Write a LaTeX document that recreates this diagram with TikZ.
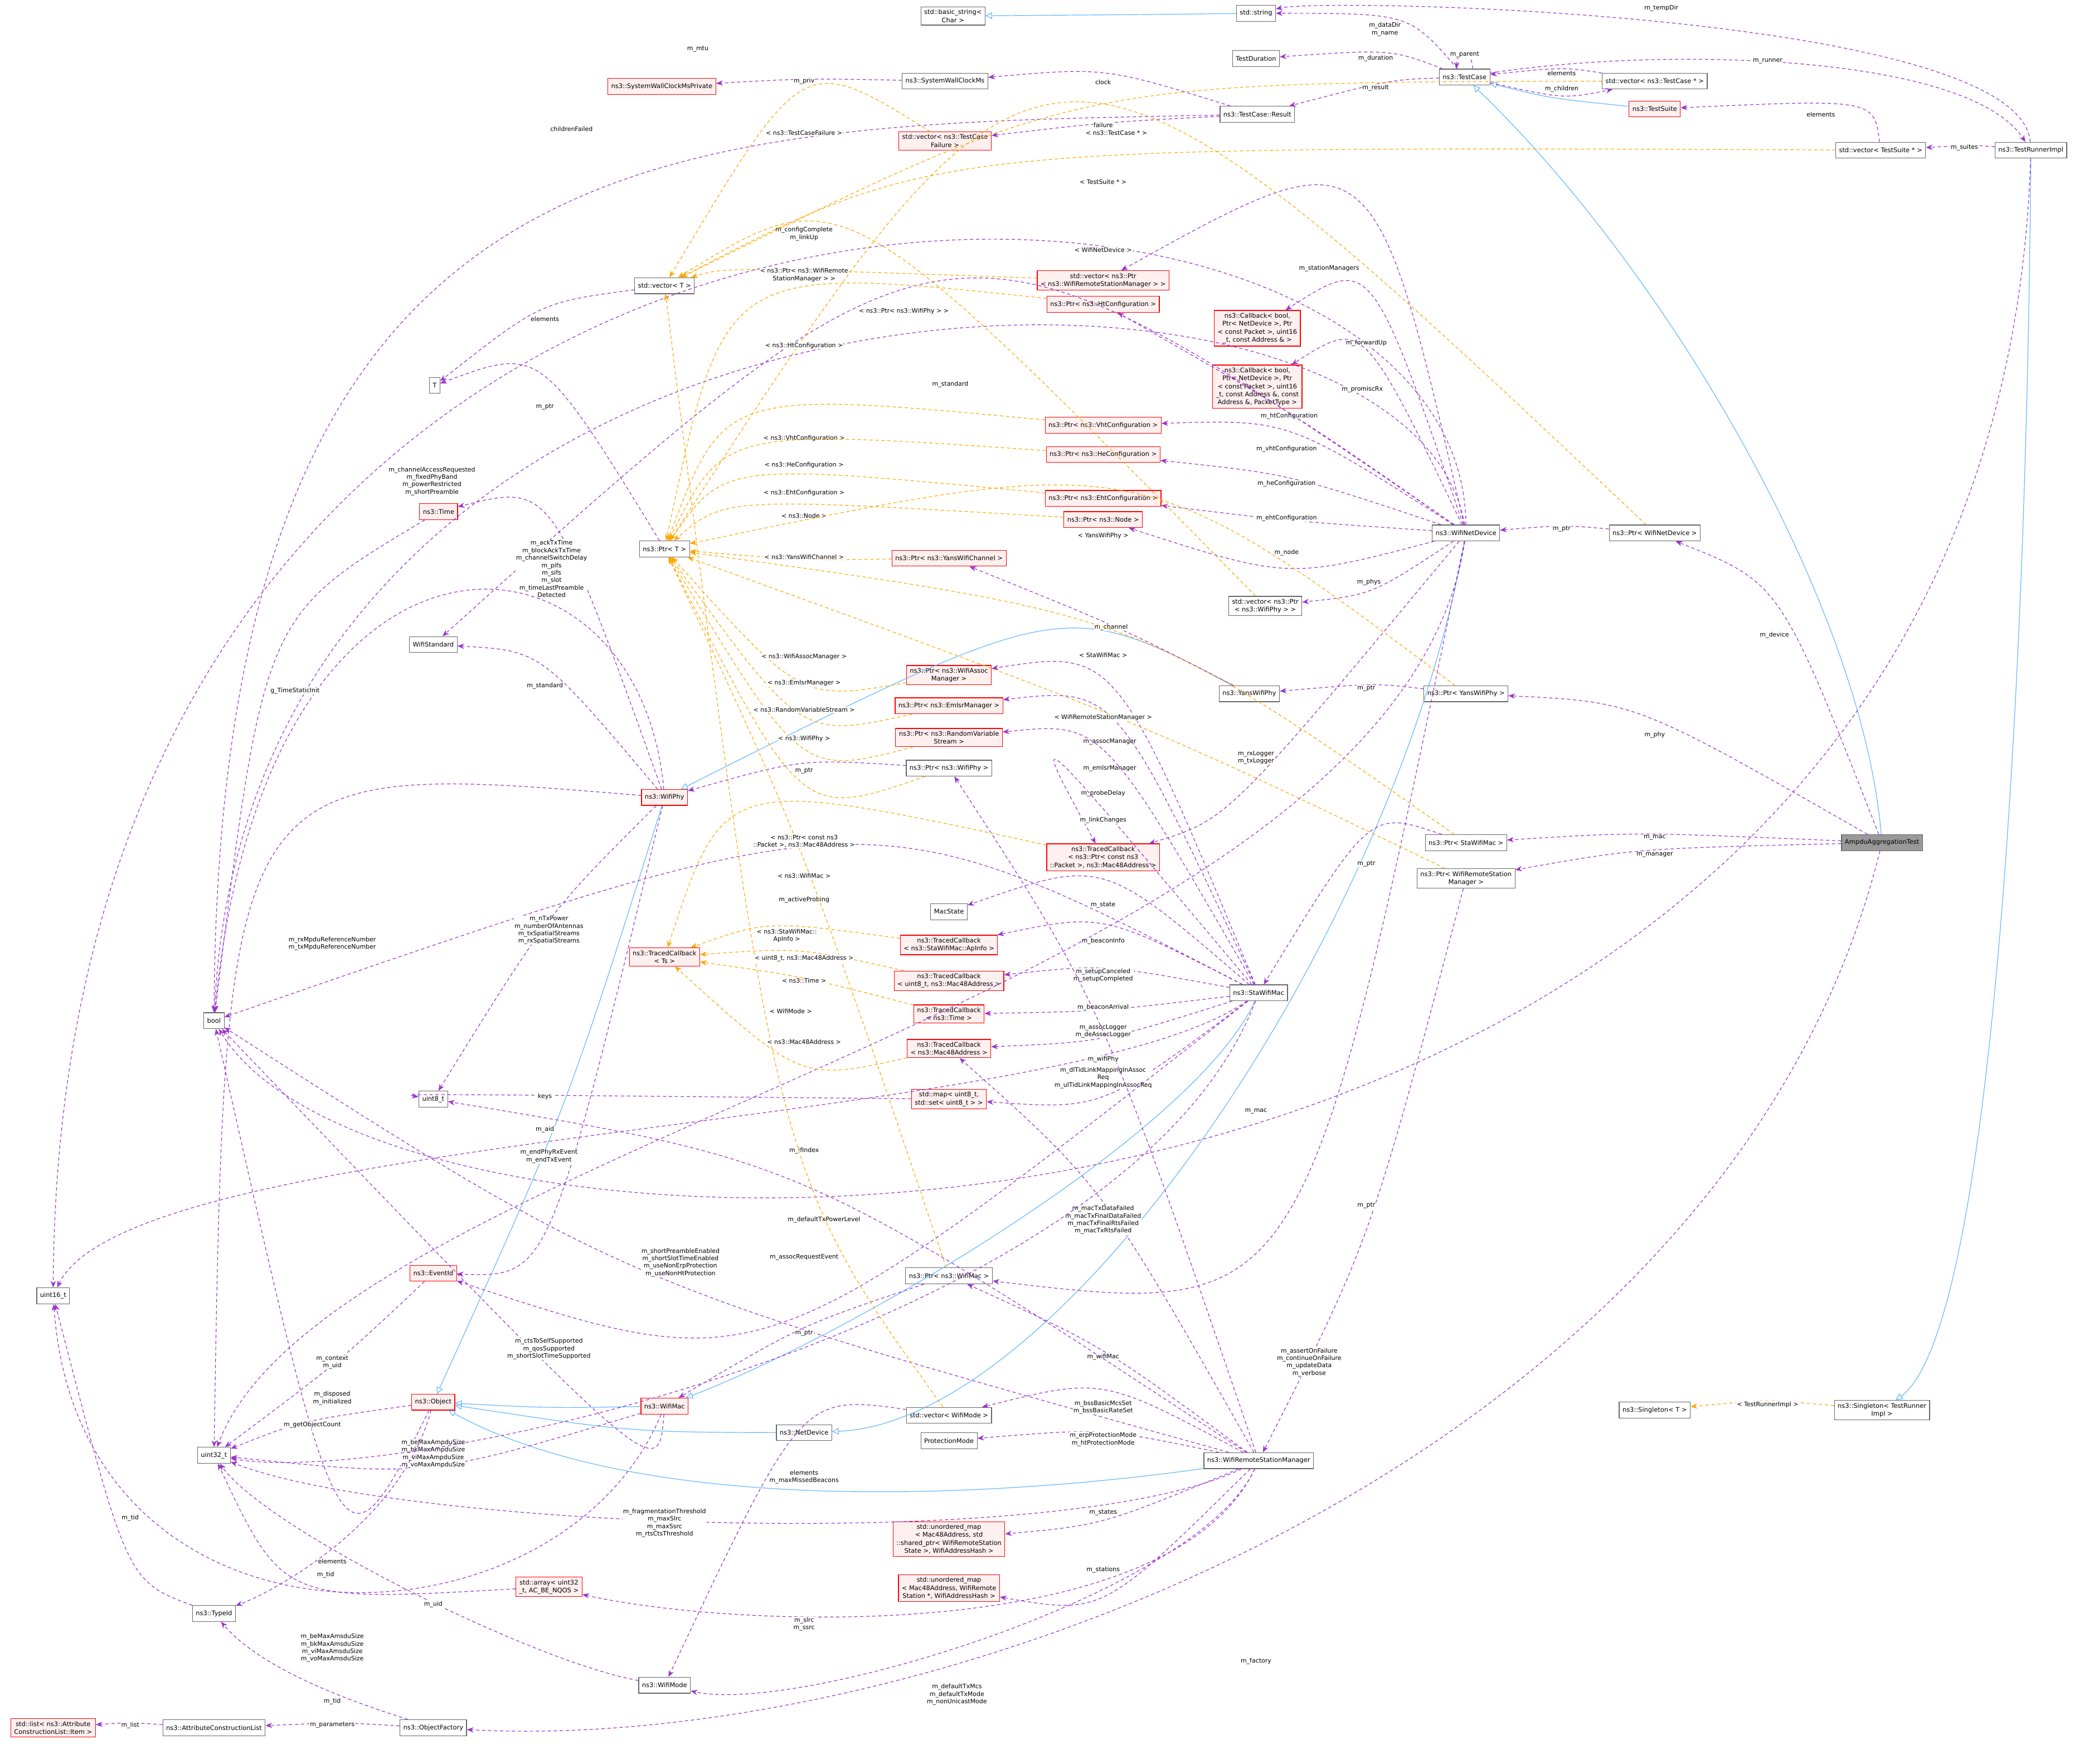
\documentclass[tikz,border=0pt]{standalone}
\usepackage{fontspec}
\setmainfont{DejaVu Sans}
\usetikzlibrary{arrows.meta,calc}
\definecolor{cuse}{HTML}{9A32CD}
\definecolor{cinh}{HTML}{63B8FF}
\definecolor{ctpl}{HTML}{FFA500}
\tikzset{
 box/.style={draw=black!60,line width=0.5pt,fill=white,font=\fontsize{4.8}{6}\selectfont,align=center,inner xsep=2.5pt,inner ysep=2pt,minimum height=12pt},
 rbox/.style={box,draw=red,fill=red!6},
 gbox/.style={box,fill=black!40},
 use/.style={draw=cuse,dash pattern=on 2.5pt off 2pt,line width=0.5pt,-{Stealth[length=5pt,width=4pt]}},
 inh/.style={draw=cinh,line width=0.5pt,-{Triangle[open,length=5pt,width=5pt]}},
 tpl/.style={draw=ctpl,dash pattern=on 2.5pt off 2pt,line width=0.5pt,-{Stealth[length=5pt,width=4pt]}},
 lbl/.style={font=\fontsize{4.6}{5.6}\selectfont,align=center,fill=white,inner sep=0.4pt}
}
\newcommand\lnk[5]{\coordinate (P) at (#4);
 \draw[#1] (#2) .. controls ($2*(P)-0.5*(#2)-0.5*(#3)$) .. (#3);
 \node[lbl] at (P) {#5};}
\newcommand\cnx[4]{\coordinate (P) at (#4);
 \draw[#1] (#2) .. controls ($2*(P)-0.5*(#2)-0.5*(#3)$) .. (#3);}
\newcommand\lnkc[7]{\draw[#1] (#2) .. controls (#4) and (#5) .. (#3);
 \node[lbl] at (#6) {#7};}
\begin{document}
\begin{tikzpicture}[x=1pt,y=-1pt]
\useasboundingbox (0,0) rectangle (1568,1327);
% nodes
\node[box] (bstr) at (717,12) {std::basic\_string\textless\\Char \textgreater};
\node[box] (str) at (945,10) {std::string};
\node[box] (tdur) at (945,44) {TestDuration};
\node[box] (tc) at (1102,58) {ns3::TestCase};
\node[box] (vtc) at (1245,61) {std::vector\textless{} ns3::TestCase * \textgreater};
\node[rbox] (swcp) at (498,65) {ns3::SystemWallClockMsPrivate};
\node[box] (swc) at (711,61) {ns3::SystemWallClockMs};
\node[box] (res) at (946,86) {ns3::TestCase::Result};
\node[rbox] (tsuite) at (1245,82) {ns3::TestSuite};
\node[rbox] (vtcf) at (711,106) {std::vector\textless{} ns3::TestCase\\Failure \textgreater};
\node[box] (vts) at (1415,113) {std::vector\textless{} TestSuite * \textgreater};
\node[box] (tri) at (1528,113) {ns3::TestRunnerImpl};
\node[box] (vT) at (500,215) {std::vector\textless{} T \textgreater};
\node[rbox] (vpw) at (830,211) {std::vector\textless{} ns3::Ptr\\\textless{} ns3::WifiRemoteStationManager \textgreater{} \textgreater};
\node[rbox] (pht) at (830,229) {ns3::Ptr\textless{} ns3::HtConfiguration \textgreater};
\node[rbox] (cb1) at (946,247) {ns3::Callback\textless{} bool,\\Ptr\textless{} NetDevice \textgreater, Ptr\\\textless{} const Packet \textgreater, uint16\\\_t, const Address \& \textgreater};
\node[rbox] (cb2) at (946,291) {ns3::Callback\textless{} bool,\\Ptr\textless{} NetDevice \textgreater, Ptr\\\textless{} const Packet \textgreater, uint16\\\_t, const Address \&, const\\Address \&, PacketType \textgreater};
\node[box] (T) at (327,290) {T};
\node[rbox] (pvht) at (830,320) {ns3::Ptr\textless{} ns3::VhtConfiguration \textgreater};
\node[rbox] (phe) at (830,342) {ns3::Ptr\textless{} ns3::HeConfiguration \textgreater};
\node[rbox] (peht) at (830,375) {ns3::Ptr\textless{} ns3::EhtConfiguration \textgreater};
\node[rbox] (pnode) at (830,391) {ns3::Ptr\textless{} ns3::Node \textgreater};
\node[box] (wnd) at (1103,401) {ns3::WifiNetDevice};
\node[box] (pwnd) at (1245,401) {ns3::Ptr\textless{} WifiNetDevice \textgreater};
\node[rbox] (time) at (330,385) {ns3::Time};
\node[box] (pT) at (500,413) {ns3::Ptr\textless{} T \textgreater};
\node[rbox] (pywc) at (714,420) {ns3::Ptr\textless{} ns3::YansWifiChannel \textgreater};
\node[box] (vpphy) at (952,456) {std::vector\textless{} ns3::Ptr\\\textless{} ns3::WifiPhy \textgreater{} \textgreater};
\node[box] (wstd) at (326,485) {WifiStandard};
\node[box] (yphy) at (940,522) {ns3::YansWifiPhy};
\node[box] (pyphy) at (1103,522) {ns3::Ptr\textless{} YansWifiPhy \textgreater};
\node[rbox] (passoc) at (714,508) {ns3::Ptr\textless{} ns3::WifiAssoc\\Manager \textgreater};
\node[rbox] (pemlsr) at (714,531) {ns3::Ptr\textless{} ns3::EmlsrManager \textgreater};
\node[rbox] (prvs) at (714,555) {ns3::Ptr\textless{} ns3::RandomVariable\\Stream \textgreater};
\node[box] (pphy) at (714,578) {ns3::Ptr\textless{} ns3::WifiPhy \textgreater};
\node[rbox] (phy) at (500,600) {ns3::WifiPhy};
\node[rbox] (tcpkt) at (830,645) {ns3::TracedCallback\\\textless{} ns3::Ptr\textless{} const ns3\\::Packet \textgreater, ns3::Mac48Address \textgreater};
\node[box] (psta) at (1103,634) {ns3::Ptr\textless{} StaWifiMac \textgreater};
\node[box] (pwrsm) at (1103,661) {ns3::Ptr\textless{} WifiRemoteStation\\Manager \textgreater};
\node[gbox] (ampdu) at (1416,634) {AmpduAggregationTest};
\node[box] (macstate) at (714,686) {MacState};
\node[rbox] (tcts) at (500,720) {ns3::TracedCallback\\\textless{} Ts \textgreater};
\node[rbox] (tcap) at (714,711) {ns3::TracedCallback\\\textless{} ns3::StaWifiMac::ApInfo \textgreater};
\node[rbox] (tcu8) at (714,738) {ns3::TracedCallback\\\textless{} uint8\_t, ns3::Mac48Address \textgreater};
\node[rbox] (tctime) at (714,763) {ns3::TracedCallback\\\textless{} ns3::Time \textgreater};
\node[box] (sta) at (947,747) {ns3::StaWifiMac};
\node[rbox] (tcmac) at (714,789) {ns3::TracedCallback\\\textless{} ns3::Mac48Address \textgreater};
\node[box] (bool) at (161,768) {bool};
\node[box] (u8) at (326,827) {uint8\_t};
\node[rbox] (map) at (714,827) {std::map\textless{} uint8\_t,\\std::set\textless{} uint8\_t \textgreater{} \textgreater};
\node[box] (u16) at (40,975) {uint16\_t};
\node[rbox] (evt) at (326,958) {ns3::EventId};
\node[box] (pmac) at (714,960) {ns3::Ptr\textless{} ns3::WifiMac \textgreater};
\node[rbox] (obj) at (326,1055) {ns3::Object};
\node[rbox] (mac) at (500,1058) {ns3::WifiMac};
\node[box] (nd) at (605,1078) {ns3::NetDevice};
\node[box] (vmode) at (714,1065) {std::vector\textless{} WifiMode \textgreater};
\node[box] (prot) at (714,1084) {ProtectionMode};
\node[box] (wrsm) at (947,1099) {ns3::WifiRemoteStationManager};
\node[box] (u32) at (161,1095) {uint32\_t};
\node[box] (sgT) at (1245,1061) {ns3::Singleton\textless{} T \textgreater};
\node[box] (sgTR) at (1416,1061) {ns3::Singleton\textless{} TestRunner\\Impl \textgreater};
\node[rbox] (um1) at (714,1158) {std::unordered\_map\\\textless{} Mac48Address, std\\::shared\_ptr\textless{} WifiRemoteStation\\State \textgreater, WifiAddressHash \textgreater};
\node[rbox] (um2) at (714,1195) {std::unordered\_map\\\textless{} Mac48Address, WifiRemote\\Station *, WifiAddressHash \textgreater};
\node[rbox] (arr) at (413,1194) {std::array\textless{} uint32\\\_t, AC\_BE\_NQOS \textgreater};
\node[box] (tid) at (161,1214) {ns3::TypeId};
\node[box] (wmode) at (500,1268) {ns3::WifiMode};
\node[rbox] (lst) at (40,1300) {std::list\textless{} ns3::Attribute\\ConstructionList::Item \textgreater};
\node[box] (acl) at (161,1300) {ns3::AttributeConstructionList};
\node[box] (of) at (326,1300) {ns3::ObjectFactory};
% inheritance
\cnx{inh}{str}{bstr}{845,11}
\draw[inh] (ampdu) .. controls (1400,450) and (1250,200) .. (tc);
\cnx{inh}{tsuite}{tc}{1170,72}
\draw[inh] (tri) .. controls (1525,500) and (1500,1000) .. (sgTR);
\cnx{inh}{yphy}{phy}{760,505}
\cnx{inh}{phy}{obj}{420,830}
\cnx{inh}{mac}{obj}{413,1058}
\draw[inh] (sta) .. controls (900,850) and (650,1000) .. (mac);
\cnx{inh}{nd}{obj}{470,1072}
\draw[inh] (wnd) .. controls (1050,700) and (800,1070) .. (nd);
\draw[inh] (wrsm) .. controls (800,1120) and (500,1150) .. (obj);
% usage
\lnk{use}{tc}{str}{1042,22}{m\_dataDir\\m\_name}
\lnkc{use}{tri}{str}{1520,10}{1000,-2}{1250,6}{m\_tempDir}
\lnk{use}{tc}{tdur}{1035,44}{m\_duration}
\draw[use] ([xshift=6pt]tc.north) .. controls +(0,-14) and +(0,-14) .. ([xshift=-6pt]tc.north);
\node[lbl] at (1102,41) {m\_parent};
\lnkc{use}{tc}{tri}{1250,35}{1480,40}{1330,46}{m\_runner}
\lnk{use}{tc}{res}{1035,66}{m\_result}
\lnk{use}{vtc}{tc}{1175,55}{elements}
\lnk{use}{tc}{vtc}{1175,67}{m\_children}
\lnk{use}{swc}{swcp}{605,61}{m\_priv}
\lnk{use}{res}{swc}{830,62}{clock}
\lnk{use}{res}{vtcf}{830,94}{failure}
\lnkc{use}{res}{bool}{500,95}{165,90}{430,97}{childrenFailed}
\lnk{use}{vts}{tsuite}{1370,86}{elements}
\lnk{use}{tri}{vts}{1478,111}{m\_suites}
\lnkc{use}{wnd}{u16}{1100,60}{45,25}{525,37}{m\_mtu}
\lnkc{use}{wnd}{bool}{1060,150}{190,160}{605,176}{m\_configComplete\\m\_linkUp}
\lnk{use}{vT}{T}{410,240}{elements}
\lnk{use}{wnd}{vpw}{1000,202}{m\_stationManagers}
\lnk{use}{wnd}{pht}{970,313}{m\_htConfiguration}
\lnk{use}{wnd}{cb1}{1028,258}{m\_forwardUp}
\lnk{use}{wnd}{cb2}{1025,293}{m\_promiscRx}
\lnk{use}{wnd}{pvht}{968,338}{m\_vhtConfiguration}
\lnk{use}{wnd}{phe}{968,364}{m\_heConfiguration}
\lnk{use}{wnd}{peht}{968,390}{m\_ehtConfiguration}
\lnk{use}{wnd}{pnode}{968,416}{m\_node}
\lnk{use}{wnd}{vpphy}{1030,438}{m\_phys}
\lnk{use}{wnd}{wstd}{715,289}{m\_standard}
\lnk{use}{pwnd}{wnd}{1175,398}{m\_ptr}
\lnk{use}{ampdu}{pwnd}{1335,478}{m\_device}
\lnk{use}{pT}{T}{410,306}{m\_ptr}
\lnk{use}{phy}{time}{415,428}{m\_ackTxTime\\m\_blockAckTxTime\\m\_channelSwitchDelay\\m\_pifs\\m\_sifs\\m\_slot\\m\_timeLastPreamble\\Detected}
\lnkc{use}{phy}{bool}{480,380}{200,360}{325,362}{m\_channelAccessRequested\\m\_fixedPhyBand\\m\_powerRestricted\\m\_shortPreamble}
\lnk{use}{time}{bool}{222,520}{g\_TimeStaticInit}
\lnk{use}{phy}{wstd}{410,516}{m\_standard}
\lnk{use}{pphy}{phy}{605,580}{m\_ptr}
\lnk{use}{yphy}{pywc}{836,472}{m\_channel}
\lnk{use}{pyphy}{yphy}{1028,518}{m\_ptr}
\lnk{use}{ampdu}{pyphy}{1245,553}{m\_phy}
\lnk{use}{ampdu}{psta}{1245,630}{m\_mac}
\lnk{use}{ampdu}{pwrsm}{1245,643}{m\_manager}
\lnk{use}{psta}{sta}{1028,650}{m\_ptr}
\lnk{use}{pwrsm}{wrsm}{1028,907}{m\_ptr}
\lnk{use}{sta}{passoc}{835,558}{m\_assocManager}
\lnk{use}{sta}{pemlsr}{835,578}{m\_emlsrManager}
\lnk{use}{sta}{prvs}{830,597}{m\_probeDelay}
\lnk{use}{wnd}{tcpkt}{945,570}{m\_rxLogger\\m\_txLogger}
\lnk{use}{sta}{tcpkt}{830,617}{m\_linkChanges}
\lnk{use}{sta}{macstate}{830,681}{m\_state}
\lnk{use}{sta}{tcap}{830,708}{m\_beaconInfo}
\lnk{use}{sta}{tcu8}{830,734}{m\_setupCanceled\\m\_setupCompleted}
\lnk{use}{sta}{tctime}{830,758}{m\_beaconArrival}
\lnk{use}{sta}{tcmac}{830,776}{m\_assocLogger\\m\_deAssocLogger}
\lnk{use}{sta}{map}{830,811}{m\_dlTidLinkMappingInAssoc\\Req\\m\_ulTidLinkMappingInAssocReq}
\lnk{use}{map}{u8}{410,825}{keys}
\lnk{use}{sta}{bool}{605,677}{m\_activeProbing}
\lnkc{use}{sta}{u16}{800,850}{100,850}{410,850}{m\_aid}
\lnk{use}{wrsm}{pphy}{830,797}{m\_wifiPhy}
\lnk{use}{wnd}{pmac}{945,836}{m\_mac}
\lnkc{use}{wnd}{u32}{1050,750}{250,860}{605,866}{m\_ifIndex}
\lnk{use}{phy}{evt}{413,870}{m\_endPhyRxEvent\\m\_endTxEvent}
\lnk{use}{phy}{u8}{413,700}{m\_nTxPower\\m\_numberOfAntennas\\m\_txSpatialStreams\\m\_rxSpatialStreams}
\lnk{use}{phy}{u32}{250,710}{m\_rxMpduReferenceNumber\\m\_txMpduReferenceNumber}
\lnk{use}{sta}{evt}{605,946}{m\_assocRequestEvent}
\lnk{use}{wrsm}{bool}{512,950}{m\_shortPreambleEnabled\\m\_shortSlotTimeEnabled\\m\_useNonErpProtection\\m\_useNonHtProtection}
\lnk{use}{wrsm}{pmac}{830,1021}{m\_wifiMac}
\lnk{use}{pmac}{mac}{605,1003}{m\_ptr}
\lnk{use}{wrsm}{u8}{620,918}{m\_defaultTxPowerLevel}
\lnk{use}{wrsm}{tcmac}{830,918}{m\_macTxDataFailed\\m\_macTxFinalDataFailed\\m\_macTxFinalRtsFailed\\m\_macTxRtsFailed}
\lnkc{use}{tri}{bool}{1500,1000}{300,1000}{985,1025}{m\_assertOnFailure\\m\_continueOnFailure\\m\_updateData\\m\_verbose}
\lnk{use}{mac}{bool}{413,1015}{m\_ctsToSelfSupported\\m\_qosSupported\\m\_shortSlotTimeSupported}
\lnk{use}{obj}{bool}{250,1052}{m\_disposed\\m\_initialized}
\lnk{use}{evt}{u32}{250,1025}{m\_context\\m\_uid}
\lnk{use}{obj}{u32}{235,1072}{m\_getObjectCount}
\lnk{use}{mac}{u32}{326,1094}{m\_beMaxAmpduSize\\m\_bkMaxAmpduSize\\m\_viMaxAmpduSize\\m\_voMaxAmpduSize}
\lnkc{use}{mac}{u16}{420,1250}{60,1260}{250,1240}{m\_beMaxAmsduSize\\m\_bkMaxAmsduSize\\m\_viMaxAmsduSize\\m\_voMaxAmsduSize}
\lnk{use}{vmode}{wmode}{605,1108}{elements}
\lnk{use}{wrsm}{vmode}{830,1059}{m\_bssBasicMcsSet\\m\_bssBasicRateSet}
\lnk{use}{wrsm}{prot}{830,1083}{m\_erpProtectionMode\\m\_htProtectionMode}
\lnkc{use}{sta}{u32}{850,1000}{300,1120}{605,1114}{m\_maxMissedBeacons}
\lnkc{use}{wrsm}{u32}{800,1170}{300,1150}{500,1146}{m\_fragmentationThreshold\\m\_maxSlrc\\m\_maxSsrc\\m\_rtsCtsThreshold}
\lnk{use}{wrsm}{um1}{830,1138}{m\_states}
\lnk{use}{wrsm}{um2}{830,1181}{m\_stations}
\lnkc{use}{wrsm}{arr}{880,1240}{550,1225}{605,1222}{m\_slrc\\m\_ssrc}
\lnk{use}{arr}{u32}{250,1175}{elements}
\lnkc{use}{wrsm}{wmode}{900,1200}{600,1290}{720,1275}{m\_defaultTxMcs\\m\_defaultTxMode\\m\_nonUnicastMode}
\lnkc{use}{wmode}{u32}{400,1250}{200,1150}{326,1207}{m\_uid}
\lnk{use}{tid}{u16}{98,1142}{m\_tid}
\lnkc{use}{obj}{tid}{300,1150}{200,1200}{245,1185}{m\_tid}
\lnkc{use}{of}{tid}{280,1285}{200,1260}{250,1280}{m\_tid}
\lnk{use}{of}{acl}{250,1298}{m\_parameters}
\lnk{use}{acl}{lst}{98,1298}{m\_list}
\lnkc{use}{ampdu}{of}{1300,1100}{700,1320}{945,1250}{m\_factory}
% templates
\lnk{tpl}{vtcf}{vT}{605,100}{\textless{} ns3::TestCaseFailure \textgreater}
\lnk{tpl}{vtc}{vT}{840,100}{\textless{} ns3::TestCase * \textgreater}
\lnk{tpl}{vts}{vT}{830,137}{\textless{} TestSuite * \textgreater}
\lnk{tpl}{vpw}{vT}{605,207}{\textless{} ns3::Ptr\textless{} ns3::WifiRemote\\StationManager \textgreater{} \textgreater}
\lnk{tpl}{vpphy}{vT}{680,234}{\textless{} ns3::Ptr\textless{} ns3::WifiPhy \textgreater{} \textgreater}
\lnk{tpl}{vmode}{vT}{595,761}{\textless{} WifiMode \textgreater}
\lnk{tpl}{pwnd}{pT}{830,188}{\textless{} WifiNetDevice \textgreater}
\lnk{tpl}{pht}{pT}{605,260}{\textless{} ns3::HtConfiguration \textgreater}
\lnk{tpl}{pvht}{pT}{605,330}{\textless{} ns3::VhtConfiguration \textgreater}
\lnk{tpl}{phe}{pT}{605,350}{\textless{} ns3::HeConfiguration \textgreater}
\lnk{tpl}{peht}{pT}{605,371}{\textless{} ns3::EhtConfiguration \textgreater}
\lnk{tpl}{pnode}{pT}{605,388}{\textless{} ns3::Node \textgreater}
\lnk{tpl}{pywc}{pT}{605,419}{\textless{} ns3::YansWifiChannel \textgreater}
\lnk{tpl}{passoc}{pT}{605,494}{\textless{} ns3::WifiAssocManager \textgreater}
\lnk{tpl}{pemlsr}{pT}{605,514}{\textless{} ns3::EmlsrManager \textgreater}
\lnk{tpl}{prvs}{pT}{605,534}{\textless{} ns3::RandomVariableStream \textgreater}
\lnk{tpl}{pphy}{pT}{605,556}{\textless{} ns3::WifiPhy \textgreater}
\lnk{tpl}{pyphy}{pT}{830,403}{\textless{} YansWifiPhy \textgreater}
\lnk{tpl}{psta}{pT}{830,493}{\textless{} StaWifiMac \textgreater}
\lnk{tpl}{pwrsm}{pT}{830,540}{\textless{} WifiRemoteStationManager \textgreater}
\lnk{tpl}{pmac}{pT}{605,659}{\textless{} ns3::WifiMac \textgreater}
\lnk{tpl}{tcpkt}{tcts}{605,633}{\textless{} ns3::Ptr\textless{} const ns3\\::Packet \textgreater, ns3::Mac48Address \textgreater}
\lnk{tpl}{tcap}{tcts}{592,704}{\textless{} ns3::StaWifiMac::\\ApInfo \textgreater}
\lnk{tpl}{tcu8}{tcts}{605,721}{\textless{} uint8\_t, ns3::Mac48Address \textgreater}
\lnk{tpl}{tctime}{tcts}{605,738}{\textless{} ns3::Time \textgreater}
\lnk{tpl}{tcmac}{tcts}{605,784}{\textless{} ns3::Mac48Address \textgreater}
\lnk{tpl}{sgTR}{sgT}{1330,1057}{\textless{} TestRunnerImpl \textgreater}
\end{tikzpicture}
\end{document}
